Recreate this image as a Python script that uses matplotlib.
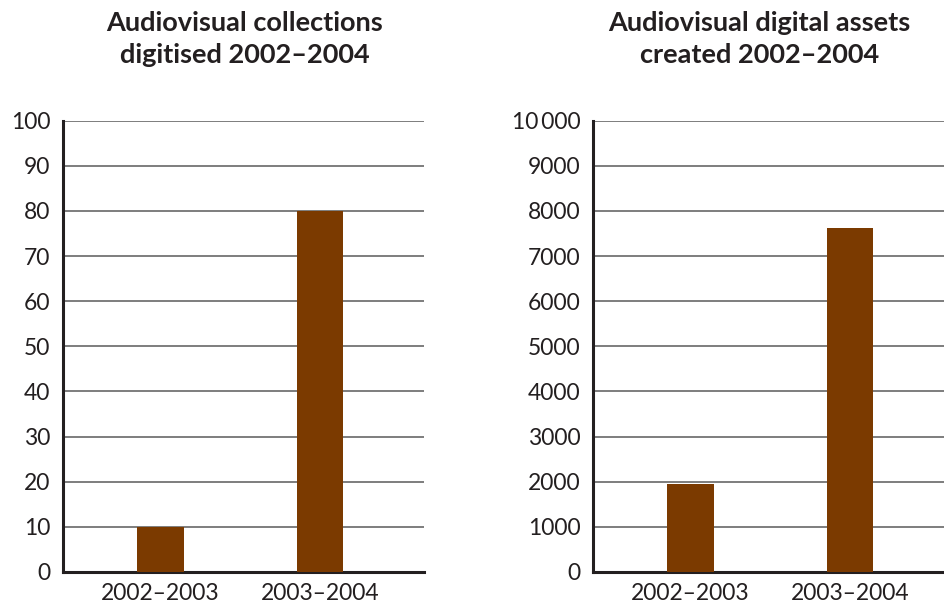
"""Audiovisual digitisation: collections and digital assets, 2002-2004."""
import matplotlib

matplotlib.use("Agg")
import matplotlib.pyplot as plt
from matplotlib.ticker import FixedLocator

periods = ["2002\u20132003", "2003\u20132004"]
collections_digitised = [10, 80]
assets_created = [1950, 7625]

left_ticks = list(range(0, 101, 10))
right_ticks = list(range(0, 10001, 1000))
right_labels = [str(t) for t in right_ticks[:-1]] + ["10\u2009000"]

BAR = "#7b3a00"
INK = "#231f20"
GRID = "#5a5a5a"

plt.rcParams["font.family"] = ["Lato", "DejaVu Sans"]

fig = plt.figure(figsize=(9.45, 6.1), dpi=100)
ax1 = fig.add_axes([0.0667, 0.0623, 0.382, 0.740])
ax2 = fig.add_axes([0.6275, 0.0623, 0.382, 0.740])


def style(ax, values, ticks, labels, top):
    x = range(len(values))
    ax.bar(x, values, width=0.29, color=BAR, zorder=3)
    ax.set_xlim(-0.61, 1.65)
    ax.set_ylim(0, top)
    ax.yaxis.set_major_locator(FixedLocator(ticks))
    ax.set_yticklabels(labels)
    ax.set_xticks(list(x))
    ax.set_xticklabels(periods)
    ax.grid(axis="y", color=GRID, linewidth=1.1, zorder=1)
    ax.set_axisbelow(True)
    for side in ("top", "right"):
        ax.spines[side].set_visible(False)
    for side in ("left", "bottom"):
        ax.spines[side].set_linewidth(2.2)
        ax.spines[side].set_color(INK)
    ax.tick_params(length=0, labelsize=16.5, colors=INK)
    ax.tick_params(axis="y", pad=9)
    ax.tick_params(axis="x", pad=8)


style(ax1, collections_digitised, left_ticks, [str(t) for t in left_ticks], 100)
style(ax2, assets_created, right_ticks, right_labels, 10000)

fig.text(0.259, 0.982, "Audiovisual collections\ndigitised 2002\u20132004",
         ha="center", va="top", fontsize=19.5, fontweight="bold", color=INK,
         linespacing=1.42)
fig.text(0.804, 0.982, "Audiovisual digital assets\ncreated 2002\u20132004",
         ha="center", va="top", fontsize=19.5, fontweight="bold", color=INK,
         linespacing=1.42)

fig.savefig("out.png", dpi=100)
